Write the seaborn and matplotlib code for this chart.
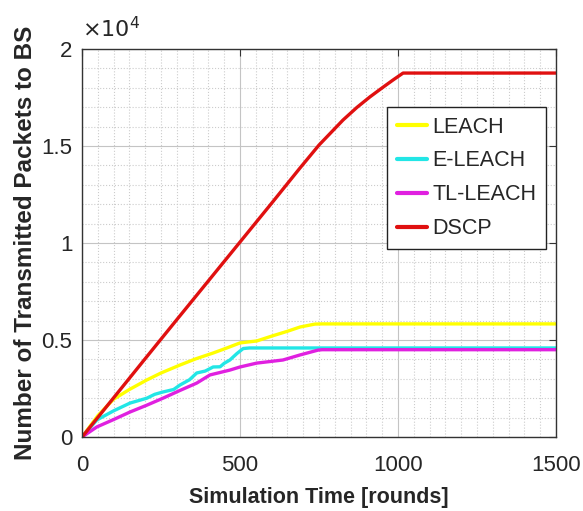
import numpy as np
import pandas as pd
import seaborn as sns
import matplotlib
matplotlib.use("Agg")
import matplotlib.pyplot as plt
from matplotlib.ticker import MultipleLocator, FuncFormatter

# ---- data ----
leach_x = [0, 50, 100, 150, 205, 250, 310, 360, 415, 460, 500, 553, 600, 650, 690, 737, 760, 1500]
leach_y = [0, 1100, 1950, 2450, 2940, 3300, 3710, 4030, 4330, 4600, 4850, 4950, 5200, 5450, 5670, 5820, 5830, 5830]

eleach_x = [0, 47, 100, 152, 205, 230, 256, 290, 310, 340, 363, 390, 415, 437, 450, 468, 490, 510, 530, 1500]
eleach_y = [0, 880, 1350, 1750, 2000, 2200, 2320, 2450, 2680, 2950, 3300, 3400, 3610, 3620, 3800, 3970, 4300, 4560, 4590, 4590]

tl_x = [0, 47, 100, 152, 205, 256, 310, 363, 405, 468, 500, 553, 600, 636, 690, 747, 760, 1500]
tl_y = [0, 520, 900, 1290, 1640, 2000, 2400, 2780, 3200, 3450, 3610, 3810, 3900, 3970, 4230, 4480, 4500, 4500]

dscp_x = [0, 100, 200, 300, 400, 500, 600, 690, 750, 826, 870, 911, 950, 984, 1016, 1500]
dscp_y = [0, 2020, 4040, 6050, 8050, 10050, 12050, 13870, 15050, 16340, 16990, 17530, 18000, 18400, 18760, 18760]

series_names = ["LEACH", "E-LEACH", "TL-LEACH", "DSCP"]
series_colors = ["#FFFF00", "#22E6E6", "#E020E0", "#E01010"]

frames = []
for name, xs, ys in zip(series_names,
                        [leach_x, eleach_x, tl_x, dscp_x],
                        [leach_y, eleach_y, tl_y, dscp_y]):
    frames.append(pd.DataFrame({"round": xs, "packets": ys, "protocol": name}))
df = pd.concat(frames, ignore_index=True)

sns.set_theme(style="white")
plt.rcParams['font.family'] = ['Liberation Sans', 'DejaVu Sans']

fig = plt.figure(figsize=(5.83, 5.11), dpi=100)
ax = fig.add_axes([0.1407, 0.1448, 0.8130, 0.7593])

sns.lineplot(data=df, x="round", y="packets", hue="protocol",
             hue_order=series_names, palette=series_colors,
             linewidth=2.4, sort=False, estimator=None, ax=ax)

ax.set_xlim(0, 1500)
ax.set_ylim(0, 20000)
ax.xaxis.set_major_locator(MultipleLocator(500))
ax.xaxis.set_minor_locator(MultipleLocator(50))
ax.yaxis.set_major_locator(MultipleLocator(5000))
ax.yaxis.set_minor_locator(MultipleLocator(1000))
ax.yaxis.set_major_formatter(FuncFormatter(lambda v, p: f"{v/1e4:g}"))

ax.grid(which="major", color="#c4c4c4", linestyle="-", linewidth=0.8)
ax.grid(which="minor", color="#cccccc", linestyle=":", linewidth=0.8)
ax.set_axisbelow(True)

for s in ax.spines.values():
    s.set_color("#333333")
    s.set_linewidth(1.0)

ax.tick_params(which="major", direction="in", length=5, width=0.8,
               top=True, right=True, labelsize=16, colors="#333333",
               labelcolor="#262626")
ax.tick_params(axis="x", which="major", pad=13)
ax.tick_params(axis="y", which="major", pad=7)
ax.tick_params(which="minor", length=0)

ax.set_xlabel("Simulation Time [rounds]", fontsize=15.5, fontweight="bold", labelpad=8)
ax.set_ylabel("Number of Transmitted Packets to BS", fontsize=17.5, fontweight="bold", labelpad=3)

ax.text(0.0, 1.018, r"$\times10^{4}$", transform=ax.transAxes, fontsize=16,
        ha="left", va="bottom", color="#262626")

leg = ax.legend(loc="upper right", bbox_to_anchor=(0.979, 0.851), fontsize=15.5,
                frameon=True, fancybox=False, handlelength=1.4, handletextpad=0.25,
                labelspacing=0.6, borderpad=0.45, borderaxespad=0.0)
leg.get_frame().set_edgecolor("#222222")
leg.get_frame().set_linewidth(1.0)
leg.get_frame().set_alpha(1.0)
for line in leg.get_lines():
    line.set_linewidth(3)

fig.savefig("out.png", dpi=100)
